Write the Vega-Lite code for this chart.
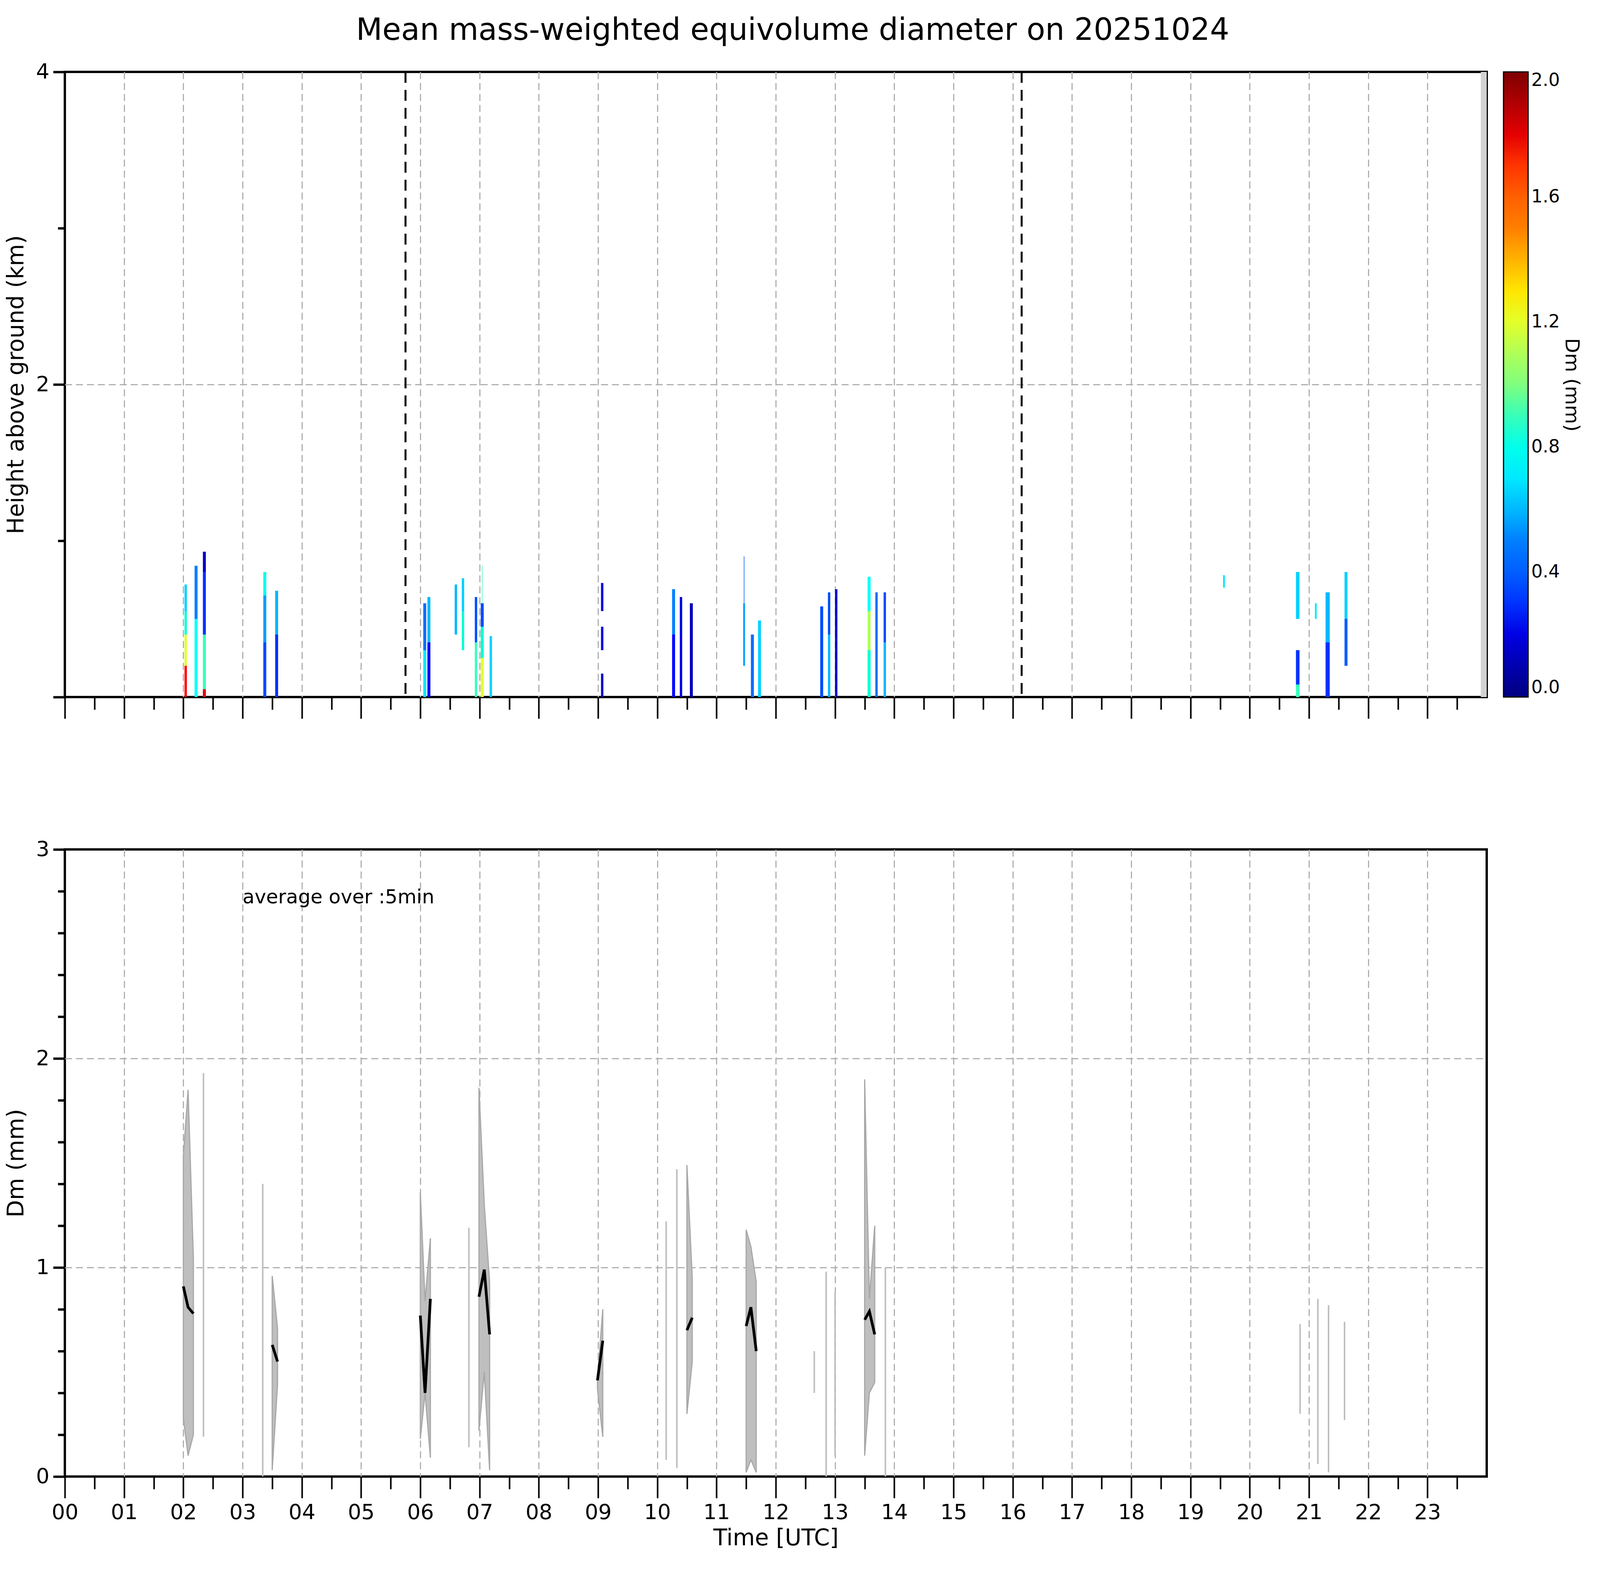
{
  "$schema": "https://vega.github.io/schema/vega-lite/v6.json",
  "background": "white",
  "padding": {"left": 10, "top": 40, "right": 10, "bottom": 10},
  "title": {"text": "Mean mass-weighted equivolume diameter on 20251024", "fontSize": 78, "fontWeight": "normal", "font": "DejaVu Sans", "color": "black", "offset": 36, "anchor": "middle"},
  "config": {
    "font": "DejaVu Sans",
    "view": {"stroke": "black", "strokeWidth": 6},
    "axis": {"domain": false, "labelFont": "DejaVu Sans", "titleFont": "DejaVu Sans", "labelColor": "black", "titleColor": "black", "tickColor": "black", "tickWidth": 4, "gridColor": "#b0b0b0", "gridDash": [18, 10], "gridWidth": 3, "labelFontSize": 54, "titleFontSize": 58, "titleFontWeight": "normal", "labelOverlap": false, "labelPadding": 10},
    "legend": {"labelFont": "DejaVu Sans", "titleFont": "DejaVu Sans"},
    "concat": {"spacing": 300}
  },
  "datasets": {
    "cells": [
      {"t0": 2.02, "t1": 2.06, "h0": 0.0, "h1": 0.2, "dm": 1.75},
      {"t0": 2.02, "t1": 2.06, "h0": 0.2, "h1": 0.4, "dm": 1.2},
      {"t0": 2.02, "t1": 2.06, "h0": 0.4, "h1": 0.55, "dm": 0.85},
      {"t0": 2.02, "t1": 2.06, "h0": 0.55, "h1": 0.72, "dm": 0.65},
      {"t0": 2.19, "t1": 2.24, "h0": 0.0, "h1": 0.5, "dm": 0.75},
      {"t0": 2.19, "t1": 2.24, "h0": 0.5, "h1": 0.84, "dm": 0.5},
      {"t0": 2.33, "t1": 2.38, "h0": 0.0, "h1": 0.05, "dm": 1.8},
      {"t0": 2.33, "t1": 2.38, "h0": 0.05, "h1": 0.4, "dm": 0.9},
      {"t0": 2.33, "t1": 2.38, "h0": 0.4, "h1": 0.8, "dm": 0.3},
      {"t0": 2.33, "t1": 2.38, "h0": 0.8, "h1": 0.93, "dm": 0.15},
      {"t0": 3.35, "t1": 3.4, "h0": 0.0, "h1": 0.35, "dm": 0.35},
      {"t0": 3.35, "t1": 3.4, "h0": 0.35, "h1": 0.65, "dm": 0.55},
      {"t0": 3.35, "t1": 3.4, "h0": 0.65, "h1": 0.8, "dm": 0.8},
      {"t0": 3.55, "t1": 3.6, "h0": 0.0, "h1": 0.4, "dm": 0.3},
      {"t0": 3.55, "t1": 3.6, "h0": 0.4, "h1": 0.68, "dm": 0.6},
      {"t0": 6.05, "t1": 6.1, "h0": 0.0, "h1": 0.3, "dm": 0.7},
      {"t0": 6.05, "t1": 6.1, "h0": 0.3, "h1": 0.6, "dm": 0.45},
      {"t0": 6.12, "t1": 6.17, "h0": 0.0, "h1": 0.35, "dm": 0.25},
      {"t0": 6.12, "t1": 6.17, "h0": 0.35, "h1": 0.64, "dm": 0.6},
      {"t0": 6.58, "t1": 6.62, "h0": 0.4, "h1": 0.72, "dm": 0.6},
      {"t0": 6.7, "t1": 6.74, "h0": 0.3, "h1": 0.55, "dm": 0.85},
      {"t0": 6.7, "t1": 6.74, "h0": 0.55, "h1": 0.76, "dm": 0.65},
      {"t0": 6.92, "t1": 6.96, "h0": 0.0, "h1": 0.35, "dm": 0.9},
      {"t0": 6.92, "t1": 6.96, "h0": 0.35, "h1": 0.64, "dm": 0.35},
      {"t0": 7.02, "t1": 7.07, "h0": 0.0, "h1": 0.25, "dm": 1.2},
      {"t0": 7.02, "t1": 7.07, "h0": 0.25, "h1": 0.45, "dm": 0.85},
      {"t0": 7.02, "t1": 7.07, "h0": 0.45, "h1": 0.6, "dm": 0.35},
      {"t0": 7.04, "t1": 7.05, "h0": 0.6, "h1": 0.84, "dm": 0.9},
      {"t0": 7.17, "t1": 7.21, "h0": 0.0, "h1": 0.39, "dm": 0.65},
      {"t0": 9.05, "t1": 9.09, "h0": 0.0, "h1": 0.15, "dm": 0.15},
      {"t0": 9.05, "t1": 9.09, "h0": 0.3, "h1": 0.45, "dm": 0.2},
      {"t0": 9.05, "t1": 9.09, "h0": 0.55, "h1": 0.73, "dm": 0.2},
      {"t0": 10.25, "t1": 10.3, "h0": 0.0, "h1": 0.4, "dm": 0.25},
      {"t0": 10.25, "t1": 10.3, "h0": 0.4, "h1": 0.69, "dm": 0.5},
      {"t0": 10.38, "t1": 10.42, "h0": 0.0, "h1": 0.64, "dm": 0.2},
      {"t0": 10.55, "t1": 10.6, "h0": 0.0, "h1": 0.6, "dm": 0.12},
      {"t0": 11.45, "t1": 11.48, "h0": 0.2, "h1": 0.6, "dm": 0.55},
      {"t0": 11.46, "t1": 11.47, "h0": 0.6, "h1": 0.9, "dm": 0.4},
      {"t0": 11.58, "t1": 11.63, "h0": 0.0, "h1": 0.4, "dm": 0.45},
      {"t0": 11.7, "t1": 11.75, "h0": 0.0, "h1": 0.49, "dm": 0.65},
      {"t0": 12.75, "t1": 12.8, "h0": 0.0, "h1": 0.58, "dm": 0.35},
      {"t0": 12.88, "t1": 12.92, "h0": 0.0, "h1": 0.4, "dm": 0.6},
      {"t0": 12.88, "t1": 12.92, "h0": 0.4, "h1": 0.67, "dm": 0.35},
      {"t0": 13.0, "t1": 13.04, "h0": 0.0, "h1": 0.69, "dm": 0.15},
      {"t0": 13.55, "t1": 13.6, "h0": 0.0, "h1": 0.3, "dm": 0.85},
      {"t0": 13.55, "t1": 13.6, "h0": 0.3, "h1": 0.55, "dm": 1.1},
      {"t0": 13.55, "t1": 13.6, "h0": 0.55, "h1": 0.77, "dm": 0.75},
      {"t0": 13.68, "t1": 13.72, "h0": 0.0, "h1": 0.67, "dm": 0.45},
      {"t0": 13.82, "t1": 13.86, "h0": 0.0, "h1": 0.35, "dm": 0.6},
      {"t0": 13.82, "t1": 13.86, "h0": 0.35, "h1": 0.67, "dm": 0.35},
      {"t0": 19.55, "t1": 19.58, "h0": 0.7, "h1": 0.78, "dm": 0.7},
      {"t0": 20.78, "t1": 20.84, "h0": 0.0, "h1": 0.08, "dm": 0.9},
      {"t0": 20.78, "t1": 20.84, "h0": 0.08, "h1": 0.3, "dm": 0.3},
      {"t0": 20.78, "t1": 20.84, "h0": 0.5, "h1": 0.8, "dm": 0.65},
      {"t0": 21.1, "t1": 21.13, "h0": 0.5, "h1": 0.6, "dm": 0.7},
      {"t0": 21.28, "t1": 21.35, "h0": 0.0, "h1": 0.35, "dm": 0.3},
      {"t0": 21.28, "t1": 21.35, "h0": 0.35, "h1": 0.67, "dm": 0.6},
      {"t0": 21.6, "t1": 21.65, "h0": 0.2, "h1": 0.5, "dm": 0.4},
      {"t0": 21.6, "t1": 21.65, "h0": 0.5, "h1": 0.8, "dm": 0.65}
    ],
    "marks": [{"t": 5.75}, {"t": 16.15}],
    "strip": [{"t0": 23.9, "t1": 24, "h0": 0, "h1": 4}],
    "band": [
      {"ev": "A", "t": 2.0, "lo": 0.28, "hi": 1.53, "mean": 0.91},
      {"ev": "A", "t": 2.08, "lo": 0.1, "hi": 1.85, "mean": 0.81},
      {"ev": "A", "t": 2.17, "lo": 0.2, "hi": 1.04, "mean": 0.78},
      {"ev": "B", "t": 3.5, "lo": 0.03, "hi": 0.96, "mean": 0.63},
      {"ev": "B", "t": 3.59, "lo": 0.44, "hi": 0.71, "mean": 0.55},
      {"ev": "C", "t": 6.0, "lo": 0.18, "hi": 1.36, "mean": 0.77},
      {"ev": "C", "t": 6.08, "lo": 0.4, "hi": 0.84, "mean": 0.4},
      {"ev": "C", "t": 6.17, "lo": 0.09, "hi": 1.14, "mean": 0.85},
      {"ev": "D", "t": 6.99, "lo": 0.22, "hi": 1.86, "mean": 0.86},
      {"ev": "D", "t": 7.08, "lo": 0.5, "hi": 1.3, "mean": 0.99},
      {"ev": "D", "t": 7.17, "lo": 0.03, "hi": 0.93, "mean": 0.68},
      {"ev": "E", "t": 8.99, "lo": 0.42, "hi": 0.47, "mean": 0.46},
      {"ev": "E", "t": 9.08, "lo": 0.19, "hi": 0.8, "mean": 0.65},
      {"ev": "F", "t": 10.5, "lo": 0.3, "hi": 1.49, "mean": 0.7},
      {"ev": "F", "t": 10.59, "lo": 0.55, "hi": 0.95, "mean": 0.76},
      {"ev": "G", "t": 11.5, "lo": 0.02, "hi": 1.18, "mean": 0.72},
      {"ev": "G", "t": 11.58, "lo": 0.08, "hi": 1.1, "mean": 0.81},
      {"ev": "G", "t": 11.67, "lo": 0.02, "hi": 0.93, "mean": 0.6},
      {"ev": "H", "t": 13.5, "lo": 0.1, "hi": 1.9, "mean": 0.75},
      {"ev": "H", "t": 13.58, "lo": 0.4, "hi": 0.85, "mean": 0.79},
      {"ev": "H", "t": 13.67, "lo": 0.45, "hi": 1.2, "mean": 0.68}
    ],
    "rules": [
      {"t": 2.34, "lo": 0.19, "hi": 1.93},
      {"t": 3.34, "lo": 0.0, "hi": 1.4},
      {"t": 6.82, "lo": 0.14, "hi": 1.19},
      {"t": 10.15, "lo": 0.08, "hi": 1.22},
      {"t": 10.33, "lo": 0.04, "hi": 1.47},
      {"t": 12.65, "lo": 0.4, "hi": 0.6},
      {"t": 12.85, "lo": 0.0, "hi": 0.98},
      {"t": 13.0, "lo": 0.1, "hi": 0.88},
      {"t": 13.85, "lo": 0.0, "hi": 1.0},
      {"t": 20.85, "lo": 0.3, "hi": 0.73},
      {"t": 21.15, "lo": 0.06, "hi": 0.85},
      {"t": 21.33, "lo": 0.02, "hi": 0.82},
      {"t": 21.6, "lo": 0.27, "hi": 0.74}
    ],
    "note": [{"t": 3.0, "v": 2.77, "label": "average over :5min"}]
  },
  "vconcat": [
    {
      "width": 3640,
      "height": 1600,
      "layer": [
        {
          "data": {"name": "cells"},
          "mark": {"type": "rect"},
          "encoding": {
            "x": {"field": "t0", "type": "quantitative", "scale": {"domain": [0, 24], "nice": false},
              "axis": {"title": null, "labels": false,
                "values": [0,0.25,0.5,0.75,1,1.25,1.5,1.75,2,2.25,2.5,2.75,3,3.25,3.5,3.75,4,4.25,4.5,4.75,5,5.25,5.5,5.75,6,6.25,6.5,6.75,7,7.25,7.5,7.75,8,8.25,8.5,8.75,9,9.25,9.5,9.75,10,10.25,10.5,10.75,11,11.25,11.5,11.75,12,12.25,12.5,12.75,13,13.25,13.5,13.75,14,14.25,14.5,14.75,15,15.25,15.5,15.75,16,16.25,16.5,16.75,17,17.25,17.5,17.75,18,18.25,18.5,18.75,19,19.25,19.5,19.75,20,20.25,20.5,20.75,21,21.25,21.5,21.75,22,22.25,22.5,22.75,23,23.25,23.5,23.75],
                "tickSize": {"condition": {"test": "datum.value % 1 === 0", "value": 55}, "value": 32},
                "gridOpacity": {"condition": {"test": "datum.value % 1 === 0 && datum.value > 0", "value": 1}, "value": 0}}},
            "x2": {"field": "t1"},
            "y": {"field": "h0", "type": "quantitative", "scale": {"domain": [0, 4], "nice": false},
              "axis": {"title": "Height above ground (km)", "values": [0, 1, 2, 3, 4], "titlePadding": 20, "tickWidth": 6,
                "labelExpr": "datum.value == 2 || datum.value == 4 ? datum.value : ''",
                "tickSize": {"condition": {"test": "datum.value % 2 === 0", "value": 30}, "value": 18},
                "gridOpacity": {"condition": {"test": "datum.value == 2", "value": 1}, "value": 0}}},
            "y2": {"field": "h1"},
            "color": {"field": "dm", "type": "quantitative",
              "scale": {"domain": [0, 0.25, 0.5, 0.75, 1, 1.25, 1.5, 1.75, 2], "range": ["#00007f", "#0000ff", "#007fff", "#00ffff", "#7fff7f", "#ffff00", "#ff7f00", "#ff0000", "#7f0000"]},
              "legend": {"title": "Dm (mm)", "orient": "right", "offset": 40, "gradientLength": 1600, "gradientThickness": 63,
                "values": [0, 0.4, 0.8, 1.2, 1.6, 2.0], "format": ".1f", "labelFontSize": 46, "titleFontSize": 50, "titleFontWeight": "normal",
                "titleOrient": "right", "titleLimit": 0, "titleAnchor": "middle", "gradientStrokeColor": "black", "gradientStrokeWidth": 3, "labelOffset": 8}}
          }
        },
        {
          "data": {"name": "strip"},
          "mark": {"type": "rect", "color": "#d3d3d3"},
          "encoding": {"x": {"field": "t0", "type": "quantitative"}, "x2": {"field": "t1"}, "y": {"field": "h0", "type": "quantitative"}, "y2": {"field": "h1"}}
        },
        {
          "data": {"name": "marks"},
          "mark": {"type": "rule", "color": "black", "strokeWidth": 5, "strokeDash": [28, 18]},
          "encoding": {"x": {"field": "t", "type": "quantitative"}}
        }
      ]
    },
    {
      "width": 3640,
      "height": 1605,
      "layer": [
        {
          "data": {"name": "band"},
          "mark": {"type": "area", "color": "#bfbfbf", "stroke": "#a8a8a8", "strokeWidth": 3},
          "encoding": {
            "x": {"field": "t", "type": "quantitative", "scale": {"domain": [0, 24], "nice": false},
              "axis": {"title": "Time [UTC]", "titlePadding": 10,
                "values": [0,0.25,0.5,0.75,1,1.25,1.5,1.75,2,2.25,2.5,2.75,3,3.25,3.5,3.75,4,4.25,4.5,4.75,5,5.25,5.5,5.75,6,6.25,6.5,6.75,7,7.25,7.5,7.75,8,8.25,8.5,8.75,9,9.25,9.5,9.75,10,10.25,10.5,10.75,11,11.25,11.5,11.75,12,12.25,12.5,12.75,13,13.25,13.5,13.75,14,14.25,14.5,14.75,15,15.25,15.5,15.75,16,16.25,16.5,16.75,17,17.25,17.5,17.75,18,18.25,18.5,18.75,19,19.25,19.5,19.75,20,20.25,20.5,20.75,21,21.25,21.5,21.75,22,22.25,22.5,22.75,23,23.25,23.5,23.75],
                "labelExpr": "datum.value % 1 === 0 ? (datum.value < 10 ? '0' : '') + datum.value : ''",
                "labelFlush": false,
                "tickSize": {"condition": {"test": "datum.value % 1 === 0", "value": 55}, "value": 32},
                "gridOpacity": {"condition": {"test": "datum.value % 1 === 0 && datum.value > 0", "value": 1}, "value": 0}}},
            "y": {"field": "lo", "type": "quantitative", "scale": {"domain": [0, 3], "nice": false},
              "axis": {"title": "Dm (mm)", "titlePadding": 20, "tickWidth": 6,
                "values": [0,0.2,0.4,0.6,0.8,1,1.2,1.4,1.6,1.8,2,2.2,2.4,2.6,2.8,3],
                "labelExpr": "abs(datum.value - round(datum.value)) < 0.001 ? round(datum.value) : ''",
                "tickSize": {"condition": {"test": "abs(datum.value - round(datum.value)) < 0.001", "value": 30}, "value": 18},
                "gridOpacity": {"condition": {"test": "abs(datum.value - 1) < 0.001 || abs(datum.value - 2) < 0.001", "value": 1}, "value": 0}}},
            "y2": {"field": "hi"},
            "detail": {"field": "ev"}
          }
        },
        {
          "data": {"name": "rules"},
          "mark": {"type": "rule", "color": "#bfbfbf", "strokeWidth": 4},
          "encoding": {"x": {"field": "t", "type": "quantitative"}, "y": {"field": "lo", "type": "quantitative"}, "y2": {"field": "hi"}}
        },
        {
          "data": {"name": "band"},
          "mark": {"type": "line", "color": "black", "strokeWidth": 7},
          "encoding": {"x": {"field": "t", "type": "quantitative"}, "y": {"field": "mean", "type": "quantitative"}, "detail": {"field": "ev"}}
        },
        {
          "data": {"name": "note"},
          "mark": {"type": "text", "align": "left", "baseline": "middle", "fontSize": 50, "color": "black", "font": "DejaVu Sans"},
          "encoding": {"x": {"field": "t", "type": "quantitative"}, "y": {"field": "v", "type": "quantitative"}, "text": {"field": "label"}}
        }
      ]
    }
  ]
}
